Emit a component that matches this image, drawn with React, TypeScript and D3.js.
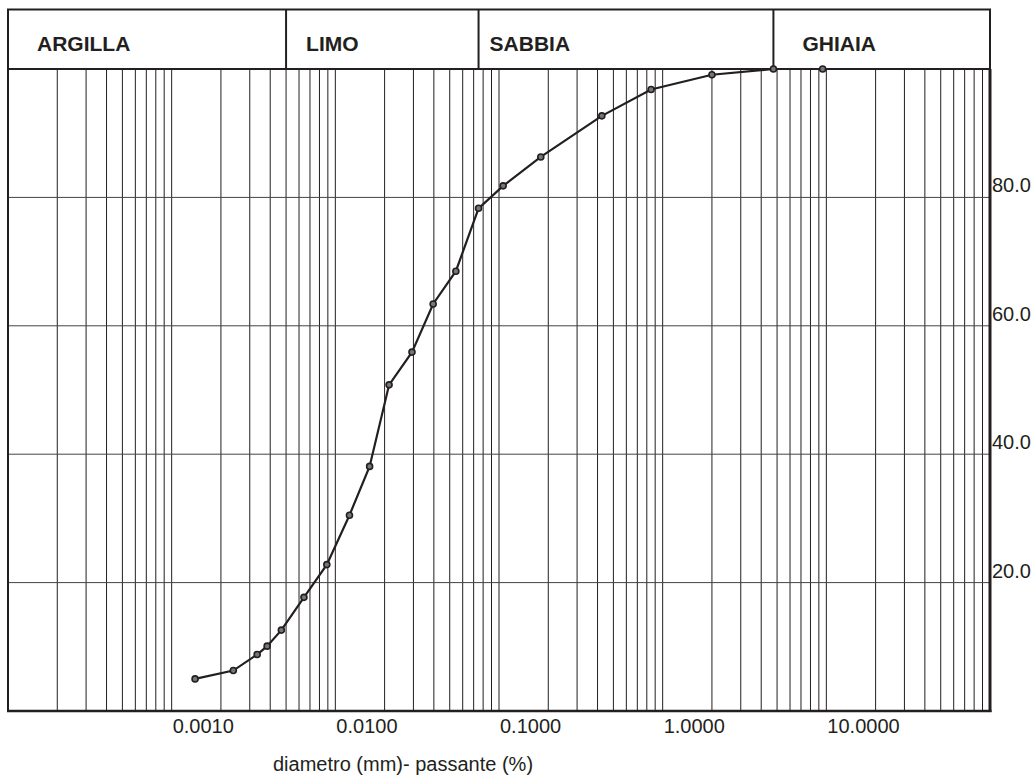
import React from 'react';
import * as d3 from 'd3';

// grain size curve (diameter in mm, percent passing)
const diameters = [
  0.00139, 0.00238, 0.00333, 0.00383, 0.00468, 0.00643, 0.00887, 0.0122, 0.0162, 0.0213,
  0.0294, 0.0396, 0.0545, 0.075, 0.106, 0.18, 0.425, 0.85, 2.0, 4.75, 9.5,
];
const passing = [
  5.0, 6.3, 8.8, 10.1, 12.6, 17.7, 22.8, 30.5, 38.1, 50.8,
  55.9, 63.4, 68.5, 78.3, 81.8, 86.3, 92.7, 96.8, 99.1, 100, 100,
];

const soilClasses = ['ARGILLA', 'LIMO', 'SABBIA', 'GHIAIA'];
const classBounds = [0.0001, 0.005, 0.075, 4.75, 100];

const xTickValues = [0.001, 0.01, 0.1, 1, 10];
const yTickValues = [20, 40, 60, 80];

const W = 1034;
const H = 775;
const left = 8;
const right = 990;
const headerTop = 9.5;
const top = 69;
const bottom = 711;
const labelPad = [29, 20, 11, 29];
const font = '"Liberation Sans", Arial, sans-serif';
const ink = '#231f20';

const App: React.FC = () => {
  const x = d3.scaleLog().domain([0.0001, 100]).range([left, right]);
  const y = d3.scaleLinear().domain([0, 100]).range([bottom, top]);

  // minor + major log grid lines
  const gridX: number[] = [];
  for (let e = -4; e <= 1; e++) {
    for (let k = 1; k <= 9; k++) {
      const v = k * Math.pow(10, e);
      if (v > 0.0001) gridX.push(v);
    }
  }
  gridX.push(100);

  const points = diameters.map((d, i) => [d, passing[i]] as [number, number]);
  const line = d3
    .line<[number, number]>()
    .x(d => x(d[0]))
    .y(d => y(d[1]));

  const fmt = d3.format('.4f');

  return (
    <svg
      width={W}
      height={H}
      style={{ position: 'absolute', left: 0, top: 0, background: '#fff' }}
      fontFamily={font}
    >
      {/* header with soil classes */}
      <rect x={left} y={headerTop} width={right - left} height={top - headerTop} fill="none" stroke={ink} strokeWidth={2} />
      {classBounds.slice(1, -1).map(b => (
        <line key={b} x1={x(b)} x2={x(b)} y1={headerTop} y2={top} stroke={ink} strokeWidth={2} />
      ))}
      {soilClasses.map((c, i) => (
        <text key={c} x={x(classBounds[i]) + labelPad[i]} y={51} fontSize={21} fontWeight="bold" fill={ink}>
          {c}
        </text>
      ))}

      {/* vertical grid */}
      {gridX.map(v => (
        <line key={'gx' + v} x1={x(v)} x2={x(v)} y1={top} y2={bottom} stroke={ink} strokeWidth={1} />
      ))}
      {/* horizontal grid */}
      {yTickValues.map(v => (
        <line key={'gy' + v} x1={left} x2={right} y1={y(v)} y2={y(v)} stroke="#444" strokeWidth={1} />
      ))}

      {/* frame */}
      <line x1={left} x2={left} y1={top} y2={bottom} stroke={ink} strokeWidth={2} />
      <line x1={left} x2={right} y1={top} y2={top} stroke={ink} strokeWidth={2} />
      <line x1={left - 1} x2={right + 1.5} y1={bottom} y2={bottom} stroke={ink} strokeWidth={2.5} />
      <line x1={right} x2={right} y1={top} y2={bottom + 1} stroke={ink} strokeWidth={3} />

      {/* y labels */}
      {yTickValues.map(v => (
        <text key={'ly' + v} x={right + 2} y={y(v) - 5} fontSize={20} fill={ink}>
          {v.toFixed(1)}
        </text>
      ))}

      {/* x labels */}
      {xTickValues.map(v => (
        <text key={'lx' + v} x={x(v) + 1} y={733} fontSize={20} fill={ink}>
          {fmt(v)}
        </text>
      ))}
      <text x={273} y={771} fontSize={20} fill={ink}>
        diametro (mm)- passante (%)
      </text>

      {/* curve */}
      <path d={line(points) || ''} fill="none" stroke={ink} strokeWidth={2.2} />
      {points.map((p, i) => (
        <circle key={'p' + i} cx={x(p[0])} cy={y(p[1])} r={3} fill="#777" stroke={ink} strokeWidth={1.6} />
      ))}
    </svg>
  );
};

export default App;
